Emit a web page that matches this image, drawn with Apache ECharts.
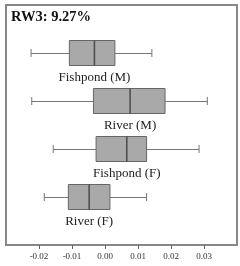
<!DOCTYPE html>
<html lang="en">
<head>
    <meta charset="UTF-8">
    <title>RW3</title>
    <script src="https://cdn.jsdelivr.net/npm/echarts@6/dist/echarts.min.js"></script>
    <style>
        html, body { margin: 0; padding: 0; background: #fff; }
        #main { width: 240px; height: 266px; }
    </style>
</head>
<body>
<div id="main"></div>
<script type="text/javascript">
    // groups, top to bottom
    var groups = ['Fishpond (M)', 'River (M)', 'Fishpond (F)', 'River (F)'];
    // five number summaries
    var lows    = [-0.0224, -0.0222, -0.0157, -0.0184];
    var q1s     = [-0.0108, -0.0035, -0.0027, -0.0111];
    var medians = [-0.0032,  0.0076,  0.0066, -0.0048];
    var q3s     = [ 0.0030,  0.0182,  0.0126,  0.0015];
    var highs   = [ 0.0142,  0.0310,  0.0285,  0.0126];
    var tickValues = [-0.02, -0.01, 0.00, 0.01, 0.02, 0.03];

    var serif = '"Liberation Serif", "DejaVu Serif", serif';

    var rows = [];
    for (var i = 0; i < groups.length; i++) {
        rows.push([i, lows[i], q1s[i], medians[i], q3s[i], highs[i]]);
    }

    function drawBox(params, api) {
        var i = api.value(0);
        var lo = api.coord([api.value(1), i]);
        var a = api.coord([api.value(2), i]);
        var m = api.coord([api.value(3), i]);
        var b = api.coord([api.value(4), i]);
        var hi = api.coord([api.value(5), i]);
        var y = m[1];
        var h = 25, cap = 8;
        var line = { stroke: '#777', lineWidth: 1 };
        return {
            type: 'group',
            children: [
                { type: 'line', shape: { x1: lo[0], y1: y + 0.5, x2: a[0], y2: y + 0.5 }, style: line },
                { type: 'line', shape: { x1: b[0], y1: y + 0.5, x2: hi[0], y2: y + 0.5 }, style: line },
                { type: 'line', shape: { x1: lo[0], y1: y - cap / 2, x2: lo[0], y2: y + cap / 2 }, style: line },
                { type: 'line', shape: { x1: hi[0], y1: y - cap / 2, x2: hi[0], y2: y + cap / 2 }, style: line },
                { type: 'rect', shape: { x: a[0], y: y - h / 2, width: b[0] - a[0], height: h },
                  style: { fill: '#a9a9a9', stroke: '#666', lineWidth: 1 } },
                { type: 'line', shape: { x1: m[0], y1: y - h / 2, x2: m[0], y2: y + h / 2 },
                  style: { stroke: '#4a4a4a', lineWidth: 1.5 } },
                { type: 'text', x: m[0], y: y + 25,
                  style: { text: groups[i], fill: '#222', font: '13px ' + serif,
                           align: 'center', verticalAlign: 'middle' } }
            ]
        };
    }

    var myChart = echarts.init(document.getElementById('main'));

    var option = {
        animation: false,
        title: {
            text: 'RW3: 9.27%',
            left: 11,
            top: 10,
            padding: 0,
            textStyle: { fontFamily: serif, fontWeight: 'bold', fontSize: 14.5, color: '#111' }
        },
        grid: {
            left: 6, top: 5, width: 231, height: 240,
            show: true, borderColor: '#888', borderWidth: 2, backgroundColor: 'transparent'
        },
        xAxis: {
            type: 'value',
            min: -0.03, max: 0.04, interval: 0.01,
            axisLine: { show: false, onZero: false },
            axisTick: { show: true, length: 4, lineStyle: { color: '#666' } },
            splitLine: { show: false },
            axisLabel: {
                showMinLabel: false, showMaxLabel: false,
                margin: 7, fontSize: 9, fontFamily: serif, color: '#333',
                formatter: function (v) {
                    for (var k = 0; k < tickValues.length; k++) {
                        if (Math.abs(v - tickValues[k]) < 1e-9) return tickValues[k].toFixed(2);
                    }
                    return '';
                }
            }
        },
        yAxis: {
            type: 'value', min: -1, max: 4, inverse: true, show: false
        },
        series: [{
            type: 'custom',
            renderItem: drawBox,
            encode: { x: [1, 2, 3, 4, 5], y: 0 },
            data: rows
        }]
    };

    myChart.setOption(option);
</script>
</body>
</html>
